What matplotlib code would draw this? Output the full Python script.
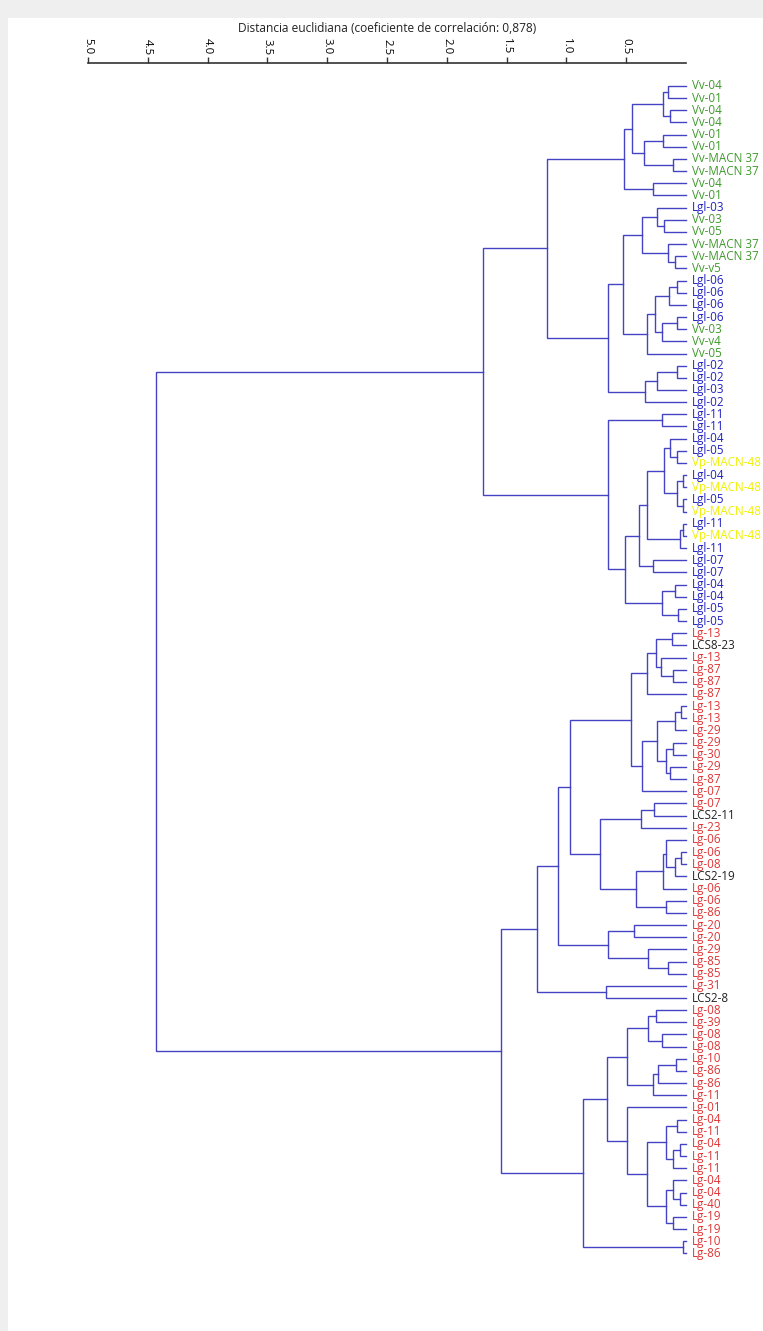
import numpy as np
import matplotlib.pyplot as plt
from matplotlib.patches import Rectangle

# hojas del dendrograma, de arriba hacia abajo
labels = [
    "Vv-04", "Vv-01", "Vv-04", "Vv-04", "Vv-01", "Vv-01", "Vv-MACN 37", "Vv-MACN 37",
    "Vv-04", "Vv-01", "Lgl-03", "Vv-03", "Vv-05", "Vv-MACN 37", "Vv-MACN 37", "Vv-v5",
    "Lgl-06", "Lgl-06", "Lgl-06", "Lgl-06", "Vv-03", "Vv-v4", "Vv-05", "Lgl-02",
    "Lgl-02", "Lgl-03", "Lgl-02", "Lgl-11", "Lgl-11", "Lgl-04", "Lgl-05", "Vp-MACN-48",
    "Lgl-04", "Vp-MACN-48", "Lgl-05", "Vp-MACN-48", "Lgl-11", "Vp-MACN-48", "Lgl-11",
    "Lgl-07", "Lgl-07", "Lgl-04", "Lgl-04", "Lgl-05", "Lgl-05",
    "Lg-13", "LCS8-23", "Lg-13", "Lg-87", "Lg-87", "Lg-87", "Lg-13", "Lg-13", "Lg-29",
    "Lg-29", "Lg-30", "Lg-29", "Lg-87", "Lg-07", "Lg-07", "LCS2-11", "Lg-23", "Lg-06",
    "Lg-06", "Lg-08", "LCS2-19", "Lg-06", "Lg-06", "Lg-86", "Lg-20", "Lg-20", "Lg-29",
    "Lg-85", "Lg-85", "Lg-31", "LCS2-8", "Lg-08", "Lg-39", "Lg-08", "Lg-08", "Lg-10",
    "Lg-86", "Lg-86", "Lg-11", "Lg-01", "Lg-04", "Lg-11", "Lg-04", "Lg-11", "Lg-11",
    "Lg-04", "Lg-04", "Lg-40", "Lg-19", "Lg-19", "Lg-10", "Lg-86",
]

# uniones: (nombre, hijo1, hijo2, distancia); int = hoja, str = nodo previo
merges = [
    ("a1", 0, 1, 0.15), ("a2", 2, 3, 0.13), ("a3", "a1", "a2", 0.19),
    ("a4", 4, 5, 0.19), ("a5", 6, 7, 0.11), ("a6", "a4", "a5", 0.35),
    ("a7", "a3", "a6", 0.45), ("a8", 8, 9, 0.28), ("a9", "a7", "a8", 0.52),
    ("b1", 11, 12, 0.18), ("b2", 10, "b1", 0.24), ("b3", 14, 15, 0.09),
    ("b4", 13, "b3", 0.15), ("b5", "b2", "b4", 0.37), ("b6", 16, 17, 0.075),
    ("b7", "b6", 18, 0.14), ("b8", 19, 20, 0.075), ("b9", "b8", 21, 0.20),
    ("b10", "b7", "b9", 0.26), ("b11", "b10", 22, 0.33), ("b12", "b5", "b11", 0.53),
    ("c1", 23, 24, 0.075), ("c2", "c1", 25, 0.24), ("c3", "c2", 26, 0.34),
    ("b13", "b12", "c3", 0.65), ("t1", "a9", "b13", 1.16),
    ("d1", 27, 28, 0.20), ("e1", 30, 31, 0.075), ("e2", 29, "e1", 0.13),
    ("e3", 32, 33, 0.025), ("e4", 34, 35, 0.025), ("e5", "e3", "e4", 0.075),
    ("e6", "e2", "e5", 0.18), ("e7", 36, 37, 0.025), ("e8", "e7", 38, 0.05),
    ("e9", "e6", "e8", 0.33), ("e10", 39, 40, 0.28), ("e11", "e9", "e10", 0.39),
    ("f1", 41, 42, 0.09), ("f2", 43, 44, 0.067), ("f3", "f1", "f2", 0.20),
    ("e12", "e11", "f3", 0.51), ("d2", "d1", "e12", 0.65), ("t2", "t1", "d2", 1.70),
    ("g1", 45, 46, 0.12), ("g2", 48, 49, 0.11), ("g3", 47, "g2", 0.21),
    ("g4", "g1", "g3", 0.25), ("g5", "g4", 50, 0.33), ("h1", 51, 52, 0.04),
    ("h2", "h1", 53, 0.09), ("h3", 54, 55, 0.11), ("h4", 56, 57, 0.13),
    ("h5", "h3", "h4", 0.17), ("h6", "h2", "h5", 0.24), ("h7", "h6", 58, 0.37),
    ("g6", "g5", "h7", 0.46), ("i1", 59, 60, 0.27), ("i2", "i1", 61, 0.38),
    ("j1", 63, 64, 0.04), ("j2", "j1", 65, 0.09), ("j3", 62, "j2", 0.17),
    ("j4", "j3", 66, 0.19), ("j5", 67, 68, 0.17), ("j6", "j4", "j5", 0.42),
    ("i3", "i2", "j6", 0.72), ("g7", "g6", "i3", 0.97), ("k1", 69, 70, 0.435),
    ("k2", 72, 73, 0.15), ("k3", 71, "k2", 0.32), ("k4", "k1", "k3", 0.65),
    ("g8", "g7", "k4", 1.07), ("l1", 74, 75, 0.67), ("g9", "g8", "l1", 1.25),
    ("m1", 76, 77, 0.25), ("m2", 78, 79, 0.20), ("m3", "m1", "m2", 0.32),
    ("m4", 80, 81, 0.084), ("m5", "m4", 82, 0.23), ("m6", "m5", 83, 0.28),
    ("m7", "m3", "m6", 0.49), ("n1", 85, 86, 0.075), ("n2", 87, 88, 0.05),
    ("n3", "n2", 89, 0.11), ("n4", "n1", "n3", 0.17), ("n5", 91, 92, 0.05),
    ("n6", 90, "n5", 0.11), ("n7", 93, 94, 0.11), ("n8", "n6", "n7", 0.17),
    ("n9", "n4", "n8", 0.33), ("n10", 84, "n9", 0.49), ("m8", "m7", "n10", 0.66),
    ("o1", 95, 96, 0.025), ("m9", "m8", "o1", 0.86), ("t3", "g9", "m9", 1.55),
    ("root", "t2", "t3", 4.43),
]

ticks = [5.0, 4.5, 4.0, 3.5, 3.0, 2.5, 2.0, 1.5, 1.0, 0.5]
tick_labels = ["5.0", "4.5", "4.0", "3.5", "3.0", "2.5", "2.0", "1.5", "1.0", "0.5"]
title = "Distancia euclidiana (coeficiente de correlación: 0,878)"

prefix_colors = [("Vv", "#3f9a2c"), ("Lgl", "#2222c0"), ("Vp", "#f0f000"),
                 ("LCS", "#222222"), ("Lg", "#e03434")]
line_color = "#4343c4"


def leaf_color(name):
    for p, c in prefix_colors:
        if name.startswith(p):
            return c
    return "black"


plt.rcParams['font.family'] = ['Open Sans', 'DejaVu Sans']

W, H = 763, 1331
fig = plt.figure(figsize=(W / 100, H / 100), dpi=100, facecolor='white')
# marco gris de la ventana
fig.patches.append(Rectangle((0, 1 - 18 / H), 1, 18 / H, transform=fig.transFigure,
                             facecolor='#efefef', edgecolor='none', zorder=0))
fig.patches.append(Rectangle((0, 0), 8 / W, 1, transform=fig.transFigure,
                             facecolor='#efefef', edgecolor='none', zorder=0))

top_px, bot_px = 63, 1300
ax = fig.add_axes([88 / W, 1 - bot_px / H, 598 / W, (bot_px - top_px) / H])
ax.set_facecolor('none')

pos = {}
for i in range(len(labels)):
    pos[i] = (0.0, float(i))
for name, a, b, h in merges:
    xa, ya = pos[a]
    xb, yb = pos[b]
    ax.plot([xa, h, h, xb], [ya, ya, yb, yb], color=line_color, lw=1.0,
            solid_joinstyle='miter', clip_on=False)
    pos[name] = (h, (ya + yb) / 2)

for i, lab in enumerate(labels):
    ax.text(-0.05, i, lab, color=leaf_color(lab), fontsize=8.4,
            ha='left', va='center', clip_on=False)

ax.set_xlim(5.0, 0.0)
ax.set_ylim((bot_px - 86) / 12.16, (top_px - 86) / 12.16)
ax.xaxis.tick_top()
ax.set_xticks(ticks)
ax.set_xticklabels(tick_labels, rotation=-90, fontsize=8.2)
ax.tick_params(axis='x', length=4, width=1, color='#333333', pad=2)
ax.set_yticks([])
for s in ['bottom', 'left', 'right']:
    ax.spines[s].set_visible(False)
ax.spines['top'].set_color('#333333')
ax.spines['top'].set_linewidth(1.2)

fig.text(387 / W, 1 - 28 / H, title, ha='center', va='center', fontsize=8.6,
         color='#222222')

fig.savefig('out.png', dpi=100, facecolor=fig.get_facecolor())
